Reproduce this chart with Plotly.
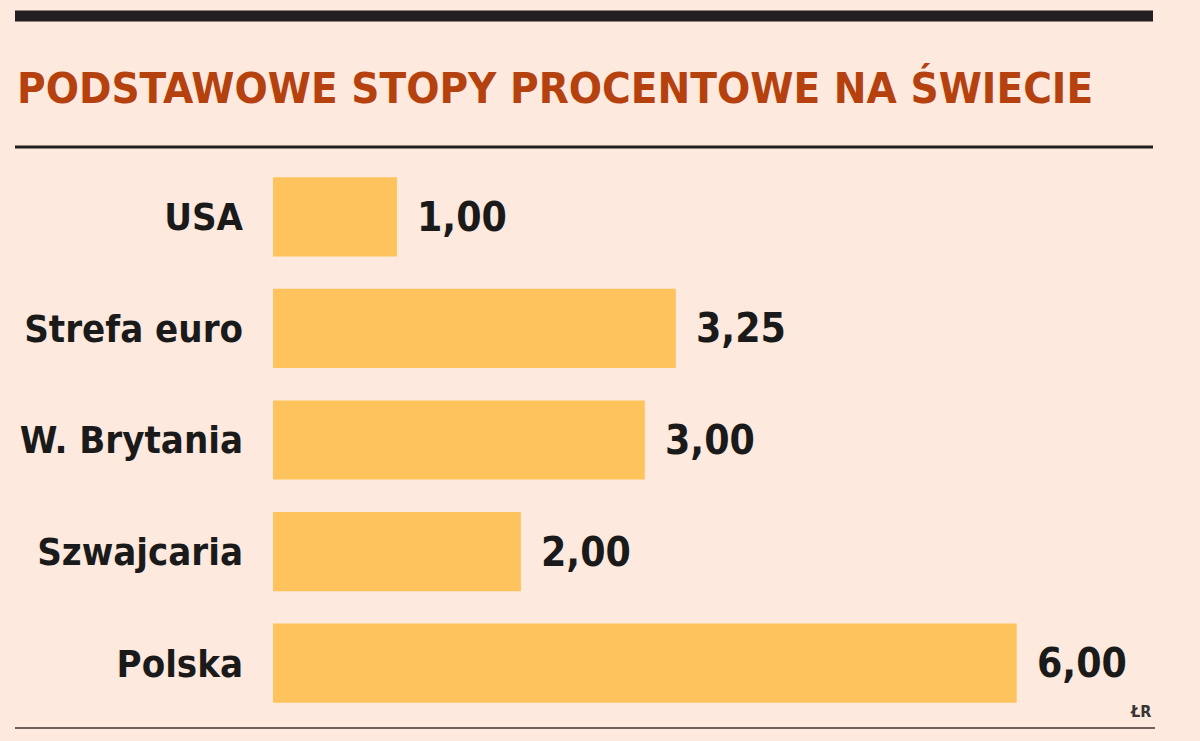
import plotly.graph_objects as go

countries = ["USA", "Strefa euro", "W. Brytania", "Szwajcaria", "Polska"]
rates = [1.00, 3.25, 3.00, 2.00, 6.00]

title_text = "PODSTAWOWE STOPY PROCENTOWE NA ŚWIECIE"
source_text = "ŁR"

W, H = 1200, 741
BG = "#fde9dd"
BAR = "#fec35c"
TITLE_COLOR = "#b5410f"
TEXT = "#1b1a1a"
FONT = "DejaVu Sans Condensed, Liberation Sans Narrow, sans-serif"

# plot area in pixels
left, right, top, bottom = 273, 1153, 161, 719


def px_x(x):
    return (x - left) / (right - left)


def px_y(y):
    return (bottom - y) / (bottom - top)


fig = go.Figure()
fig.add_trace(go.Bar(
    x=rates,
    y=countries,
    orientation="h",
    marker=dict(color=BAR, line=dict(width=0)),
    hoverinfo="skip",
))

# value labels to the right of each bar
for c, v in zip(countries, rates):
    fig.add_annotation(
        x=v, y=c, xref="x", yref="y",
        text=f"{v:.2f}".replace(".", ","),
        showarrow=False, xanchor="left", xshift=18,
        font=dict(family=FONT, size=40.5, color=TEXT, weight="bold"),
    )

fig.add_annotation(
    x=px_x(15), y=px_y(88), xref="paper", yref="paper",
    text=title_text, showarrow=False, xanchor="left", yanchor="middle",
    font=dict(family=FONT, size=43.5, color=TITLE_COLOR, weight="bold"),
)
fig.add_annotation(
    x=px_x(1140), y=px_y(711), xref="paper", yref="paper",
    text=source_text, showarrow=False, xanchor="center", yanchor="middle",
    font=dict(family=FONT, size=16, color="#3a3433", weight="bold"),
)

# rules
fig.add_shape(type="line", xref="paper", yref="paper",
              x0=px_x(15), x1=px_x(1153), y0=px_y(16), y1=px_y(16),
              line=dict(color="#231f20", width=11))
fig.add_shape(type="line", xref="paper", yref="paper",
              x0=px_x(15), x1=px_x(1153), y0=px_y(147), y1=px_y(147),
              line=dict(color="#231f20", width=3))
fig.add_shape(type="line", xref="paper", yref="paper",
              x0=px_x(15), x1=px_x(1155), y0=px_y(728), y1=px_y(728),
              line=dict(color="#6e625e", width=2))

fig.update_layout(
    width=W, height=H,
    margin=dict(l=left, r=W - right, t=top, b=H - bottom, pad=0),
    paper_bgcolor=BG, plot_bgcolor=BG,
    showlegend=False,
    bargap=0.29,
    xaxis=dict(range=[0, 7.1], visible=False, fixedrange=True, automargin=False),
    yaxis=dict(
        autorange="reversed", showgrid=False, zeroline=False, showline=False,
        ticks="", ticklabelstandoff=29, automargin=False,
        tickfont=dict(family=FONT, size=38, color=TEXT, weight="bold"),
        fixedrange=True,
    ),
)

# drop the default page margin so the figure fills the window
fig.write_html(
    "out.html",
    config={"displayModeBar": False},
    post_script="document.body.style.margin='0';document.body.style.background='%s';" % BG,
)
